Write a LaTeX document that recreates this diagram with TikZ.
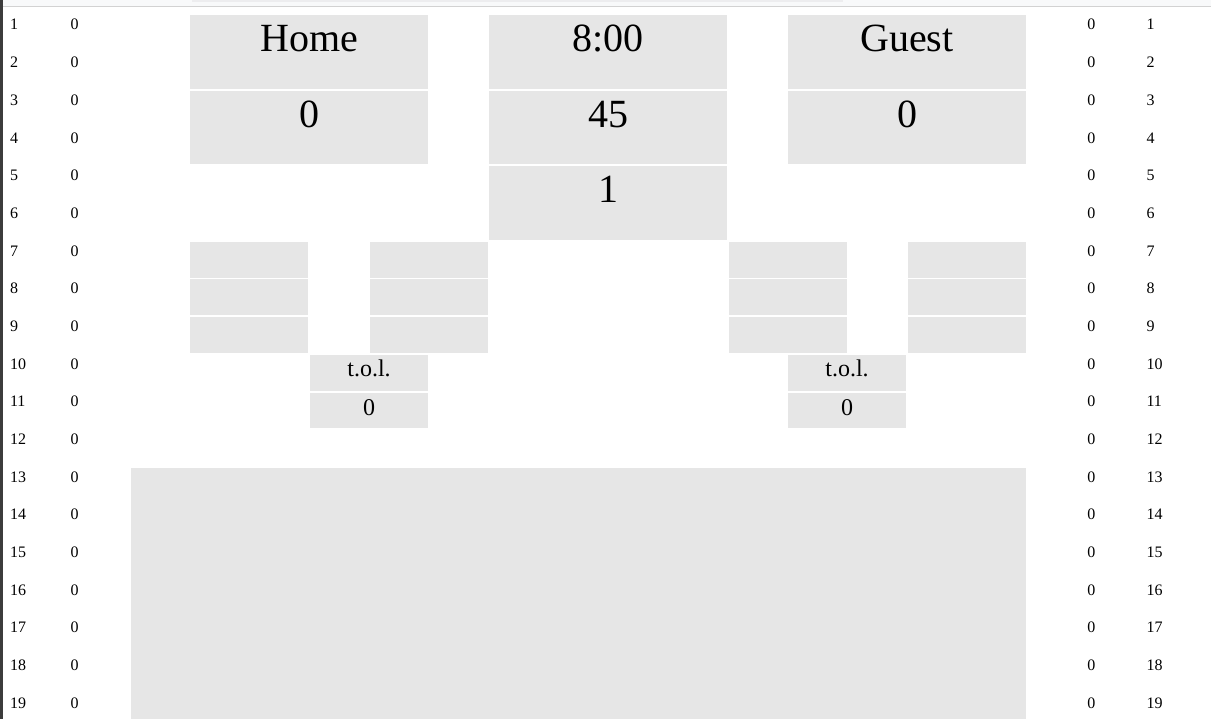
\documentclass[tikz,border=0pt]{standalone}
\usepackage{fontspec}
\setmainfont{Liberation Serif}
\usetikzlibrary{positioning}
\definecolor{cellgray}{HTML}{E6E6E6}
\definecolor{bargray}{HTML}{F8F9FA}
\definecolor{tabgray}{HTML}{EDEDEF}
\definecolor{barline}{HTML}{D2D2D2}
\definecolor{edgegray}{HTML}{3C3C3C}

\begin{document}
\begin{tikzpicture}[x=1pt, y=-1pt, every node/.style={inner sep=0, outer sep=0},
        cell/.style={fill=cellgray, anchor=north west, minimum width=#1},
        bigcell/.style={cell=238pt, minimum height=74pt},
        smallcell/.style={cell=118pt, minimum height=36pt},
        bigtext/.style={anchor=base, font=\fontsize{40}{46}\selectfont},
        toltext/.style={anchor=base, font=\fontsize{24}{28}\selectfont},
        num/.style={anchor=base west, font=\fontsize{16}{18}\selectfont}]
        \useasboundingbox (0,0) rectangle (1211,719);
        % browser bar
        \fill[bargray] (0,0) rectangle (1211,6);
        \fill[tabgray] (192,0) rectangle (843,2);
        \draw[barline] (0,6.5) -- (1211,6.5);
        \fill[edgegray] (0,0) rectangle (2.5,719);
        % scoreboard
        \node[bigcell] (home) at (190,15) {};
        \node[bigcell, minimum height=73pt] (homescore) at (190,91) {};
        \node[bigcell] (clock) at (489,15) {};
        \node[bigcell, minimum height=73pt] (shot) at (489,91) {};
        \node[bigcell] (period) at (489,166) {};
        \node[bigcell] (guest) at (788,15) {};
        \node[bigcell, minimum height=73pt] (guestscore) at (788,91) {};
        \node[bigtext] (homet) at ([yshift=-37pt]home.north) {Home};
        \node[bigtext] (homescoret) at ([yshift=-37pt]homescore.north) {0};
        \node[bigtext] (clockt) at ([yshift=-37pt]clock.north) {8:00};
        \node[bigtext] (shott) at ([yshift=-37pt]shot.north) {45};
        \node[bigtext] (periodt) at ([yshift=-37pt]period.north) {1};
        \node[bigtext] (guestt) at ([yshift=-37pt]guest.north) {Guest};
        \node[bigtext] (guestscoret) at ([yshift=-37pt]guestscore.north) {0};
        % player cells
        \foreach \x in {190,369.5,729,908}
        \foreach \r in {0,1,2}
        \node[smallcell] (p-\x-\r) at (\x,{242+37.5*\r}) {};
        % time outs left
        \foreach \x/\side in {310/home,788/guest}{
        \node[smallcell] (tol-\side) at (\x,355) {};
        \node[smallcell, minimum height=35pt] (tolv-\side) at (\x,393) {};
        \node[toltext] (tolt-\side) at ([yshift=-22pt]tol-\side.north) {t.o.l.};
        \node[toltext] (tolvt-\side) at ([yshift=-23pt]tolv-\side.north) {0};
        }
        % log panel
        \node[cell=895pt, minimum height=251pt] (log) at (131,468) {};
        % side columns
        \foreach \n in {1,...,19}{
        \node[num] (ln\n) at (10,{30+37.67*(\n-1)}) {\n};
        \node[num] (lz\n) at (70.6,{30+37.67*(\n-1)}) {0};
        \node[num] (rz\n) at (1087.3,{30+37.67*(\n-1)}) {0};
        \node[num] (rn\n) at (1146.5,{30+37.67*(\n-1)}) {\n};
        }
    \end{tikzpicture}
\end{document}
